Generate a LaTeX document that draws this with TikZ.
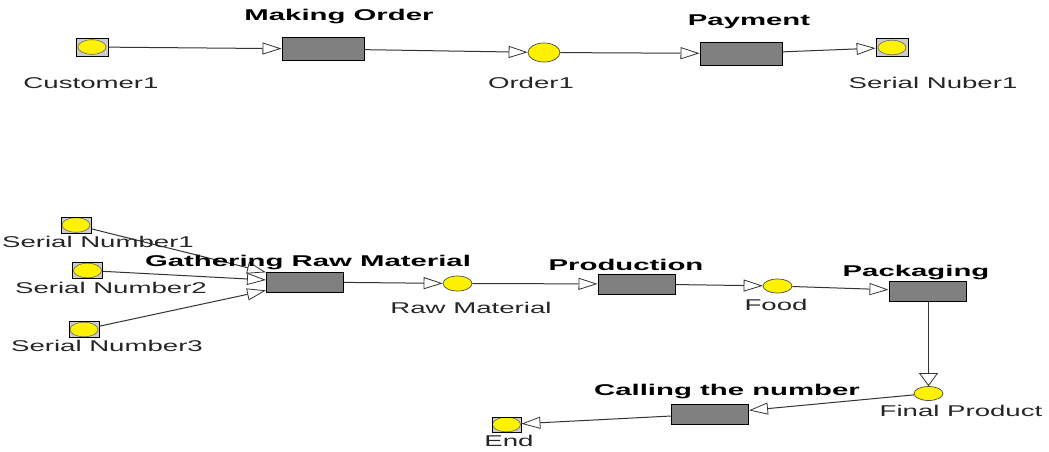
\documentclass[tikz,border=0pt]{standalone}
\usepackage{fontspec}
\setmainfont{Liberation Sans}
\newfontfamily\lblfont[FakeStretch=1.77]{Liberation Sans}
\newfontfamily\ttlfont[FakeStretch=1.88]{Liberation Sans}
\usetikzlibrary{shapes.geometric,arrows.meta}
\begin{document}
\begin{tikzpicture}[x=1pt,y=-1pt,
  place/.style={draw=black, line width=0.8pt, fill=black!20, minimum width=31pt, minimum height=17pt, inner sep=0pt,
    path picture={\draw[fill=yellow, draw=black!60, line width=0.6pt] (path picture bounding box.center) ellipse [x radius=14pt, y radius=7.3pt];}},
  trans/.style={draw=black, line width=1pt, fill=black!50, rectangle, minimum width=77pt, minimum height=20pt, inner sep=0pt},
  tbig/.style={minimum width=82pt, minimum height=23pt},
  tok/.style={draw=black!70, line width=0.7pt, fill=yellow, ellipse, minimum width=29pt, minimum height=15pt, inner sep=0pt},
  ttl/.style={font=\ttlfont\bfseries\fontsize{15.6}{18}\selectfont, anchor=base, inner sep=0pt},
  lbl/.style={font=\lblfont\fontsize{15.6}{18}\selectfont, text=black!85, anchor=base, inner sep=0pt},
  arr/.style={draw=black!80, line width=1pt, -{Triangle[length=19pt,width=12pt,fill=white,line width=0.8pt]}},
  varr/.style={draw=black!80, line width=1pt, -{Triangle[length=13pt,width=19pt,fill=white,line width=0.8pt]}}
]
\fill[white] (0,0) rectangle (1049,451);
\useasboundingbox (0,0) rectangle (1049,451);

% top row
\node[place, minimum width=32pt, minimum height=18pt] (cust) at (92,47) {};
\node[trans, tbig] (mo) at (323,49) {};
\node[tok, minimum width=32pt, minimum height=19pt] (ord) at (544,52.5) {};
\node[trans, tbig] (pay) at (741,53.5) {};
\node[place, minimum width=32pt, minimum height=18pt] (sn) at (892,47.5) {};

% bottom
\node[place, minimum width=30pt, minimum height=16pt] (s1) at (76,225) {};
\node[place, minimum width=30pt, minimum height=16pt] (s2) at (87.5,270.5) {};
\node[place, minimum width=30pt, minimum height=16pt] (s3) at (84,329.5) {};
\node[trans] (gath) at (305,282) {};
\node[tok] (raw) at (457.5,283.5) {};
\node[trans] (prod) at (636.5,284) {};
\node[tok, minimum height=14pt] (food) at (777.5,286) {};
\node[trans] (pack) at (927.5,291) {};
\node[tok, minimum height=14pt] (fp) at (928.5,393.5) {};
\node[trans] (call) at (710,414) {};
\node[place, minimum width=29pt, minimum height=15pt] (end) at (506.5,424.5) {};

% edges
\draw[arr] (cust) -- (mo);
\draw[arr] (mo) -- (ord);
\draw[arr] (ord) -- (pay);
\draw[arr] (pay) -- (sn);
\draw[arr] (s1) -- (gath);
\draw[arr] (s2) -- (gath);
\draw[arr] (s3) -- (gath);
\draw[arr] (gath) -- (raw);
\draw[arr] (raw) -- (prod);
\draw[arr] (prod) -- (food);
\draw[arr] (food) -- (pack);
\draw[varr] (pack.south -| fp) -- (fp);
\draw[arr] (fp) -- (call);
\draw[arr] (call) -- (end);

% labels
\node[ttl] (lmo) at (339,20) {Making Order};
\node[ttl] (lpay) at (749,25) {Payment};
\node[lbl] (lcust) at (91,88) {Customer1};
\node[lbl] (lord) at (531,88) {Order1};
\node[lbl] (lsn) at (933,88) {Serial Nuber1};
\node[lbl] (ls1) at (98,247) {Serial Number1};
\node[lbl] (ls2) at (111,293) {Serial Number2};
\node[lbl] (ls3) at (107,351) {Serial Number3};
\node[ttl] (lgath) at (308,266) {Gathering Raw Material};
\node[lbl] (lraw) at (471,313) {Raw Material};
\node[ttl] (lprod) at (626,270) {Production};
\node[lbl] (lfood) at (776,310) {Food};
\node[ttl] (lpack) at (916,276) {Packaging};
\node[ttl] (lcall) at (727,395) {Calling the number};
\node[lbl] (lfp) at (961,416) {Final Product};
\node[lbl] (lend) at (509,446) {End};
\end{tikzpicture}
\end{document}
